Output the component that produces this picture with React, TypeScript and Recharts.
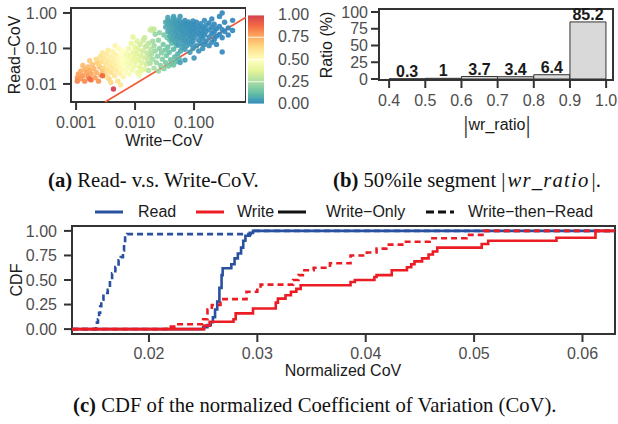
import React from 'react';
import {
  ScatterChart,
  Scatter,
  BarChart,
  Bar,
  LineChart,
  Line,
  XAxis,
  YAxis,
  ReferenceArea,
  ReferenceLine,
  LabelList,
} from 'recharts';

// ---------- (a) Read- v.s. Write-CoV : [write CoV, read CoV, colour value] ----------
const orangePoints: [number, number, number][] = [
  [0.00105, 0.015, 0.8], [0.00105, 0.012, 0.83], [0.0011, 0.019, 0.78], [0.0012, 0.023, 0.76],
  [0.0012, 0.014, 0.8], [0.0013, 0.017, 0.79], [0.0014, 0.026, 0.74], [0.0014, 0.012, 0.82],
  [0.0015, 0.021, 0.77], [0.0016, 0.03, 0.72], [0.0016, 0.016, 0.8], [0.0017, 0.024, 0.75],
  [0.0018, 0.019, 0.77], [0.0018, 0.013, 0.86], [0.0019, 0.035, 0.7], [0.002, 0.027, 0.73],
  [0.0021, 0.015, 0.78], [0.0022, 0.021, 0.74], [0.0023, 0.04, 0.68], [0.0024, 0.012, 0.8],
  [0.0025, 0.03, 0.7], [0.0026, 0.018, 0.74], [0.0013, 0.033, 0.72], [0.0017, 0.045, 0.68],
  [0.0028, 0.024, 0.71],
];

const palePoints: [number, number, number][] = [
  [0.0022, 0.05, 0.64], [0.0024, 0.036, 0.66], [0.0026, 0.06, 0.62], [0.0027, 0.043, 0.63],
  [0.0029, 0.028, 0.65], [0.003, 0.052, 0.6], [0.0031, 0.019, 0.66], [0.0032, 0.037, 0.61],
  [0.0033, 0.07, 0.58], [0.0034, 0.025, 0.63], [0.0035, 0.046, 0.59], [0.0036, 0.014, 0.66],
  [0.0037, 0.032, 0.6], [0.0038, 0.058, 0.57], [0.0039, 0.021, 0.62], [0.004, 0.04, 0.58],
  [0.0041, 0.083, 0.55], [0.0042, 0.028, 0.6], [0.0044, 0.05, 0.56], [0.0045, 0.017, 0.6],
  [0.0046, 0.035, 0.57], [0.0047, 0.065, 0.54], [0.0048, 0.024, 0.58], [0.005, 0.043, 0.54],
  [0.0051, 0.012, 0.62], [0.0052, 0.03, 0.55], [0.0054, 0.055, 0.52], [0.0055, 0.02, 0.56],
  [0.0056, 0.038, 0.52], [0.0058, 0.075, 0.5], [0.006, 0.027, 0.53], [0.0062, 0.047, 0.5],
  [0.0063, 0.016, 0.55], [0.0065, 0.034, 0.5], [0.0067, 0.06, 0.48], [0.0069, 0.022, 0.52],
  [0.0046, 0.12, 0.55], [0.0052, 0.1, 0.52], [0.0035, 0.09, 0.58], [0.0028, 0.075, 0.6],
  [0.0039, 0.011, 0.64], [0.0057, 0.0094, 0.6], [0.0044, 0.072, 0.55], [0.0061, 0.088, 0.5],
  [0.0033, 0.016, 0.63],
];

const greenPoints: [number, number, number][] = [
  [0.007, 0.04, 0.46], [0.0072, 0.072, 0.45], [0.0074, 0.028, 0.47], [0.0076, 0.053, 0.44],
  [0.0078, 0.1, 0.43], [0.008, 0.019, 0.47], [0.0082, 0.035, 0.44], [0.0084, 0.065, 0.42],
  [0.0086, 0.14, 0.4], [0.0088, 0.045, 0.42], [0.009, 0.025, 0.44], [0.0092, 0.21, 0.38],
  [0.0094, 0.08, 0.4], [0.0096, 0.055, 0.4], [0.0098, 0.032, 0.42], [0.01, 0.11, 0.38],
  [0.0103, 0.042, 0.39], [0.0106, 0.07, 0.37], [0.011, 0.021, 0.42], [0.0113, 0.095, 0.36],
  [0.0116, 0.05, 0.37], [0.012, 0.03, 0.38], [0.0123, 0.13, 0.34], [0.0126, 0.063, 0.35],
  [0.013, 0.04, 0.36], [0.0134, 0.085, 0.33], [0.0138, 0.17, 0.32], [0.0142, 0.026, 0.36],
  [0.0146, 0.055, 0.33], [0.015, 0.11, 0.31], [0.0155, 0.036, 0.33], [0.016, 0.075, 0.3],
  [0.0165, 0.045, 0.31], [0.017, 0.14, 0.29], [0.018, 0.33, 0.32], [0.019, 0.36, 0.33],
  [0.02, 0.32, 0.31], [0.021, 0.35, 0.3], [0.0175, 0.06, 0.29], [0.0185, 0.095, 0.28],
  [0.0118, 0.018, 0.42], [0.0108, 0.16, 0.36], [0.0145, 0.2, 0.32], [0.0128, 0.024, 0.39],
  [0.0158, 0.12, 0.3],
];

const tealPoints: [number, number, number][] = [
  [0.017, 0.024, 0.28], [0.018, 0.038, 0.26], [0.019, 0.07, 0.25], [0.02, 0.05, 0.24],
  [0.021, 0.028, 0.25], [0.021, 0.12, 0.23], [0.022, 0.085, 0.22], [0.023, 0.04, 0.22],
  [0.024, 0.06, 0.2], [0.025, 0.17, 0.2], [0.025, 0.023, 0.22], [0.026, 0.1, 0.19],
  [0.027, 0.033, 0.2], [0.028, 0.075, 0.18], [0.029, 0.05, 0.18], [0.03, 0.13, 0.16],
  [0.031, 0.027, 0.19], [0.032, 0.09, 0.16], [0.033, 0.04, 0.16], [0.034, 0.063, 0.15],
  [0.035, 0.2, 0.14], [0.036, 0.11, 0.13], [0.037, 0.032, 0.16], [0.038, 0.078, 0.13],
  [0.04, 0.048, 0.13], [0.042, 0.14, 0.11], [0.043, 0.036, 0.14], [0.045, 0.095, 0.11],
  [0.047, 0.058, 0.11], [0.049, 0.042, 0.12], [0.051, 0.12, 0.09], [0.053, 0.07, 0.09],
  [0.056, 0.05, 0.1], [0.059, 0.085, 0.08], [0.022, 0.25, 0.22], [0.026, 0.28, 0.2],
  [0.031, 0.24, 0.16], [0.02, 0.16, 0.24], [0.045, 0.034, 0.15], [0.039, 0.17, 0.12],
];

const bluePoints: [number, number, number][] = [
  [0.033, 0.4, 0.08], [0.033, 0.55, 0.08], [0.036, 0.3, 0.07], [0.036, 0.47, 0.07], [0.036, 0.62, 0.07],
  [0.039, 0.23, 0.07], [0.039, 0.36, 0.06], [0.039, 0.52, 0.06], [0.042, 0.18, 0.07], [0.042, 0.28, 0.06],
  [0.042, 0.42, 0.06], [0.042, 0.6, 0.05], [0.045, 0.21, 0.06], [0.045, 0.33, 0.05], [0.045, 0.48, 0.05],
  [0.045, 0.7, 0.05], [0.048, 0.15, 0.06], [0.048, 0.25, 0.05], [0.048, 0.38, 0.05], [0.048, 0.55, 0.04],
  [0.051, 0.19, 0.05], [0.051, 0.3, 0.04], [0.051, 0.44, 0.04], [0.051, 0.63, 0.04], [0.054, 0.13, 0.05],
  [0.054, 0.22, 0.04], [0.054, 0.35, 0.04], [0.054, 0.5, 0.04], [0.058, 0.17, 0.04], [0.058, 0.27, 0.04],
  [0.058, 0.4, 0.03], [0.058, 0.58, 0.03], [0.058, 0.8, 0.03], [0.062, 0.11, 0.05], [0.062, 0.2, 0.04],
  [0.062, 0.31, 0.03], [0.062, 0.46, 0.03], [0.066, 0.14, 0.04], [0.066, 0.24, 0.03], [0.066, 0.36, 0.03],
  [0.066, 0.52, 0.03], [0.07, 0.095, 0.04], [0.07, 0.17, 0.03], [0.07, 0.28, 0.03], [0.07, 0.42, 0.03],
  [0.07, 0.62, 0.02], [0.075, 0.12, 0.04], [0.075, 0.21, 0.03], [0.075, 0.33, 0.03], [0.075, 0.48, 0.02],
  [0.08, 0.15, 0.03], [0.08, 0.25, 0.03], [0.08, 0.38, 0.02], [0.08, 0.56, 0.02], [0.085, 0.078, 0.04],
  [0.085, 0.18, 0.03], [0.085, 0.3, 0.02], [0.085, 0.44, 0.02], [0.09, 0.13, 0.03], [0.09, 0.22, 0.02],
  [0.09, 0.34, 0.02], [0.09, 0.5, 0.02], [0.096, 0.1, 0.03], [0.096, 0.16, 0.02], [0.096, 0.27, 0.02],
  [0.096, 0.4, 0.02], [0.096, 0.6, 0.02], [0.1, 0.054, 0.03], [0.1, 0.2, 0.02], [0.1, 0.31, 0.02],
  [0.1, 0.47, 0.01], [0.11, 0.12, 0.02], [0.11, 0.24, 0.02], [0.11, 0.36, 0.01], [0.11, 0.55, 0.01],
  [0.12, 0.085, 0.02], [0.12, 0.17, 0.02], [0.12, 0.28, 0.01], [0.12, 0.42, 0.01], [0.13, 0.14, 0.02],
  [0.13, 0.22, 0.01], [0.13, 0.33, 0.01], [0.13, 0.5, 0.01], [0.14, 0.1, 0.02], [0.14, 0.19, 0.01],
  [0.14, 0.27, 0.01], [0.14, 0.4, 0.01], [0.15, 0.13, 0.01], [0.15, 0.24, 0.01], [0.15, 0.36, 0.01],
  [0.15, 0.62, 0.01], [0.16, 0.16, 0.01], [0.16, 0.3, 0.01], [0.16, 0.45, 0.01], [0.18, 0.12, 0.01],
  [0.18, 0.21, 0.01], [0.18, 0.34, 0.01], [0.18, 0.52, 0.0], [0.2, 0.15, 0.01], [0.2, 0.26, 0.0],
  [0.2, 0.4, 0.0], [0.2, 0.68, 0.0], [0.22, 0.18, 0.0], [0.22, 0.3, 0.0], [0.22, 0.48, 0.0],
  [0.24, 0.13, 0.0], [0.24, 0.22, 0.0], [0.24, 0.36, 0.0], [0.27, 0.25, 0.0], [0.27, 0.42, 0.0],
  [0.27, 0.8, 0.0], [0.3, 0.08, 0.0], [0.3, 0.2, 0.0], [0.3, 0.34, 0.0], [0.3, 1.0, 0.0],
  [0.33, 0.3, 0.0], [0.33, 0.55, 0.0], [0.38, 0.24, 0.0], [0.38, 0.38, 0.0], [0.45, 0.32, 0.0],
  [0.45, 0.62, 0.0], [0.07, 0.047, 0.04], [0.058, 0.04, 0.05], [0.045, 0.8, 0.05], [0.036, 0.75, 0.06],
];

const redOutliers: [number, number, number][] = [
  [0.0043, 0.0072, 1.0], [0.0028, 0.017, 0.9], [0.0017, 0.0138, 0.88],
];

const covTicksX = [0.001, 0.01, 0.1];
const covTicksY = [0.01, 0.1, 1];
const colorbarTicks = [1, 0.75, 0.5, 0.25, 0];
const identityEnds = [0.0031, 0.76];

// ---------- (b) 50%ile segment |wr_ratio| ----------
const binMids = [0.45, 0.55, 0.65, 0.75, 0.85, 0.95];
const binRatios = [0.3, 1, 3.7, 3.4, 6.4, 85.2];
const binEdges = [0.4, 0.5, 0.6, 0.7, 0.8, 0.9, 1.0];
const ratioTicks = [0, 25, 50, 75, 100];

// ---------- (c) CDF of normalized CoV ----------
const readOnlyCov = [0.0129, 0.025, 0.0254, 0.0257, 0.0259, 0.0261, 0.0263, 0.0265, 0.0267, 0.0268, 0.0276, 0.0279, 0.0282, 0.0285, 0.0287, 0.0289, 0.0293, 0.0296, 0.063];
const readOnlyCdf = [0, 0.02, 0.04, 0.07, 0.12, 0.2, 0.28, 0.42, 0.55, 0.62, 0.66, 0.72, 0.77, 0.83, 0.9, 0.95, 0.98, 1, 1];

const readThenCov = [0.0129, 0.0151, 0.0152, 0.0153, 0.0154, 0.0155, 0.0156, 0.0158, 0.0162, 0.0164, 0.0166, 0.0169, 0.0172, 0.0174, 0.0176, 0.0177, 0.0178, 0.018, 0.0294, 0.063];
const readThenCdf = [0, 0.033, 0.067, 0.1, 0.167, 0.233, 0.3, 0.367, 0.4, 0.5, 0.567, 0.633, 0.7, 0.733, 0.8, 0.867, 0.933, 0.967, 1, 1];

const writeOnlyCov = [0.0129, 0.0251, 0.0256, 0.0278, 0.028, 0.0296, 0.0317, 0.0319, 0.0326, 0.0331, 0.0336, 0.034, 0.0386, 0.039, 0.0408, 0.041, 0.0424, 0.0438, 0.0442, 0.0445, 0.0452, 0.0458, 0.0462, 0.0466, 0.0507, 0.0513, 0.0576, 0.0612, 0.063];
const writeOnlyCdf = [0, 0.035, 0.075, 0.1, 0.16, 0.21, 0.27, 0.31, 0.345, 0.38, 0.41, 0.446, 0.48, 0.5, 0.53, 0.55, 0.6, 0.63, 0.66, 0.69, 0.72, 0.76, 0.79, 0.83, 0.866, 0.9, 0.93, 1, 1];

const writeThenCov = [0.0129, 0.0216, 0.0225, 0.025, 0.0254, 0.0258, 0.0266, 0.029, 0.03, 0.0303, 0.0333, 0.0338, 0.0342, 0.0352, 0.0367, 0.0386, 0.0401, 0.041, 0.0419, 0.0435, 0.0459, 0.0493, 0.0509, 0.063];
const writeThenCdf = [0, 0.025, 0.05, 0.1, 0.2, 0.245, 0.305, 0.38, 0.42, 0.453, 0.5, 0.55, 0.6, 0.625, 0.67, 0.75, 0.78, 0.82, 0.86, 0.89, 0.926, 0.96, 1, 1];

const cdfTicksX = [0.02, 0.03, 0.04, 0.05, 0.06];
const cdfTicksY = [0, 0.25, 0.5, 0.75, 1];

// ---------- styling ----------
const SANS = '"Liberation Sans", Arial, Helvetica, sans-serif';
const SERIF = '"Liberation Serif", "Times New Roman", serif';
const INK = '#1a1a1a';
const TICK_INK = '#4d4d4d';
const FRAME = '#333333';
const BLUE = '#2a50a0';
const RED = '#ec1c24';
const CAPTION_SIZE = 20.7;

const tickText = { fill: TICK_INK, fontSize: 16, fontFamily: SANS };
const tickMark = { stroke: FRAME, strokeWidth: 2 };

const spectralStops: [number, string][] = [
  [0, '#3288bd'], [0.125, '#66c2a5'], [0.25, '#abdda4'], [0.375, '#e6f598'],
  [0.5, '#ffffbf'], [0.625, '#fee08b'], [0.75, '#fdae61'], [0.875, '#f46d43'], [1, '#d53e4f'],
];

const hex = (s: string) => [1, 3, 5].map((i) => parseInt(s.slice(i, i + 2), 16));

const spectral = (t: number) => {
  const v = Math.max(0, Math.min(1, t));
  for (let i = 1; i < spectralStops.length; i++) {
    const [p1, c1] = spectralStops[i];
    if (v <= p1) {
      const [p0, c0] = spectralStops[i - 1];
      const f = (v - p0) / (p1 - p0);
      const a = hex(c0);
      const b = hex(c1);
      const m = a.map((x, k) => Math.round(x + (b[k] - x) * f));
      return `rgb(${m[0]},${m[1]},${m[2]})`;
    }
  }
  return spectralStops[spectralStops.length - 1][1];
};

const scatterRows = [...orangePoints, ...palePoints, ...greenPoints, ...tealPoints, ...bluePoints, ...redOutliers].map(
  ([w, r, c]) => ({ w, r, c })
);
const barRows = binMids.map((mid, i) => ({ mid, ratio: binRatios[i] }));
const toRows = (xs: number[], ys: number[]) => xs.map((x, i) => ({ x, y: ys[i] }));

const Dot = (props: any) => (
  <circle cx={props.cx} cy={props.cy} r={2.7} fill={spectral(props.payload.c)} fillOpacity={0.92} />
);

const abs = (left: number, top: number): React.CSSProperties => ({ position: 'absolute', left, top });

const Rotated = ({ x, y, children }: { x: number; y: number; children: React.ReactNode }) => (
  <div
    style={{
      position: 'absolute', left: x, top: y, transform: 'translate(-50%, -50%) rotate(-90deg)',
      whiteSpace: 'nowrap', fontFamily: SANS, fontSize: 16, color: INK, lineHeight: '14px',
    }}
  >
    {children}
  </div>
);

const Centered = ({ x, y, children, style }: { x: number; y: number; children: React.ReactNode; style?: React.CSSProperties }) => (
  <div
    style={{
      position: 'absolute', left: x, top: y, transform: 'translate(-50%, -50%)',
      whiteSpace: 'nowrap', fontFamily: SANS, fontSize: 16, color: INK, lineHeight: '14px', ...style,
    }}
  >
    {children}
  </div>
);

const Swatch = ({ x, color, dashed }: { x: number; color: string; dashed?: boolean }) => (
  <svg style={abs(x, 209)} width={28} height={6}>
    <line x1={0} x2={28} y1={3} y2={3} stroke={color} strokeWidth={3} strokeDasharray={dashed ? '8 4' : undefined} />
  </svg>
);

const captionStyle = (left: number, top: number): React.CSSProperties => ({
  ...abs(left, top), fontFamily: SERIF, fontSize: CAPTION_SIZE, color: '#111', lineHeight: '22px', whiteSpace: 'nowrap',
});

const legendText = (left: number): React.CSSProperties => ({
  ...abs(left, 203), fontFamily: SANS, fontSize: 16, color: INK, lineHeight: '18px', whiteSpace: 'nowrap',
});

const App = () => {
  return (
    <div style={{ position: 'absolute', left: 0, top: 0, width: 618, height: 424, background: '#fff', overflow: 'hidden' }}>
      {/* (a) scatter */}
      <div style={abs(0, 0)}>
        <ScatterChart width={246} height={150} margin={{ top: 8, right: 0, bottom: 0, left: 0 }}>
          <XAxis
            type="number" dataKey="w" scale="log" domain={[0.00082, 0.76]} allowDataOverflow
            ticks={covTicksX} interval={0} tickFormatter={(v: number) => v.toFixed(3)}
            axisLine={false} tickLine={tickMark} tickSize={8} tickMargin={7} tick={tickText} height={48}
          />
          <YAxis
            type="number" dataKey="r" scale="log" domain={[0.0031, 1.38]} allowDataOverflow
            ticks={covTicksY} interval={0} tickFormatter={(v: number) => v.toFixed(2)}
            axisLine={false} tickLine={tickMark} tickSize={8} tickMargin={6} tick={tickText} width={71}
          />
          <Scatter data={scatterRows} shape={Dot} isAnimationActive={false} />
          <ReferenceLine
            segment={[{ x: identityEnds[0], y: identityEnds[0] }, { x: identityEnds[1], y: identityEnds[1] }]}
            stroke="#f05a38" strokeWidth={1.6}
          />
          <ReferenceArea x1={0.00082} x2={0.76} y1={0.0031} y2={1.38} fill="none" stroke={FRAME} strokeWidth={2} />
        </ScatterChart>
      </div>
      <Rotated x={15} y={55}>Read−CoV</Rotated>
      <Centered x={164} y={141}>Write−CoV</Centered>
      <svg style={abs(248, 15)} width={16} height={89}>
        <defs>
          <linearGradient id="spectralBar" x1="0" y1="1" x2="0" y2="0">
            {spectralStops.map(([p, c]) => (
              <stop key={p} offset={p} stopColor={c} />
            ))}
          </linearGradient>
        </defs>
        <rect x={0} y={0} width={16} height={89} fill="url(#spectralBar)" />
        {colorbarTicks.map((t) => (
          <line key={t} x1={0} x2={16} y1={(1 - t) * 89} y2={(1 - t) * 89} stroke="#fff" strokeOpacity={0.85} strokeWidth={1} />
        ))}
      </svg>
      {colorbarTicks.map((t) => (
        <div key={t} style={{ ...abs(278, 15 + (1 - t) * 89 - 9), fontFamily: SANS, fontSize: 16, color: TICK_INK, lineHeight: '18px' }}>
          {t.toFixed(2)}
        </div>
      ))}

      {/* (b) bar */}
      <div style={abs(300, 0)}>
        <BarChart width={318} height={140} data={barRows} margin={{ top: 9, right: 5, bottom: 0, left: 0 }} barCategoryGap={0} barGap={0}>
          <XAxis
            type="number" dataKey="mid" domain={[0.372, 1.019]} allowDataOverflow ticks={binEdges} interval={0}
            tickFormatter={(v: number) => v.toFixed(1)} axisLine={false} tickLine={tickMark} tickSize={8}
            tickMargin={7} tick={tickText} height={60}
          />
          <YAxis
            type="number" domain={[-1.5, 104.5]} allowDataOverflow ticks={ratioTicks} interval={0}
            axisLine={false} tickLine={tickMark} tickSize={8} tickMargin={3} tick={tickText} width={79}
          />
          <Bar dataKey="ratio" fill="#d9d9d9" stroke={FRAME} strokeWidth={1} isAnimationActive={false}>
            <LabelList dataKey="ratio" position="top" offset={2} fill={INK} fontSize={16} fontWeight={700} fontFamily={SANS} />
          </Bar>
          <ReferenceArea x1={0.372} x2={1.019} y1={-1.5} y2={104.5} fill="none" stroke={FRAME} strokeWidth={2} />
        </BarChart>
      </div>
      <Rotated x={327} y={45}>Ratio (%)</Rotated>
      <Centered x={497} y={125}>
        <span style={{ fontFamily: SERIF, fontSize: 26, verticalAlign: 'middle', color: '#333' }}>|</span>
        <span style={{ verticalAlign: 'middle' }}>wr_ratio</span>
        <span style={{ fontFamily: SERIF, fontSize: 26, verticalAlign: 'middle', color: '#333' }}>|</span>
      </Centered>

      {/* captions a / b */}
      <div style={captionStyle(48, 169)}>
        <b>(a)</b> Read- v.s. Write-CoV.
      </div>
      <div style={captionStyle(333, 169)}>
        <b>(b)</b> 50%ile segment |<i style={{ letterSpacing: 1.2, padding: '0 2px' }}>wr_ratio</i>|.
      </div>

      {/* (c) CDF */}
      <div style={abs(0, 200)}>
        <LineChart width={618} height={175} margin={{ top: 26, right: 3, bottom: 0, left: 0 }}>
          <XAxis
            type="number" dataKey="x" domain={[0.0129, 0.063]} allowDataOverflow ticks={cdfTicksX} interval={0}
            tickFormatter={(v: number) => v.toFixed(2)} axisLine={false} tickLine={tickMark} tickSize={8}
            tickMargin={6} tick={tickText} height={41}
          />
          <YAxis
            type="number" domain={[-0.05, 1.05]} allowDataOverflow ticks={cdfTicksY} interval={0}
            tickFormatter={(v: number) => v.toFixed(2)} axisLine={false} tickLine={tickMark} tickSize={8}
            tickMargin={7} tick={tickText} width={72}
          />
          <Line data={toRows(readOnlyCov, readOnlyCdf)} dataKey="y" type="stepAfter" stroke={BLUE} strokeWidth={2.6} dot={false} isAnimationActive={false} />
          <Line data={toRows(readThenCov, readThenCdf)} dataKey="y" type="stepAfter" stroke={BLUE} strokeWidth={2.6} strokeDasharray="6 4" dot={false} isAnimationActive={false} />
          <Line data={toRows(writeThenCov, writeThenCdf)} dataKey="y" type="stepAfter" stroke={RED} strokeWidth={2.6} strokeDasharray="6 4" dot={false} isAnimationActive={false} />
          <Line data={toRows(writeOnlyCov, writeOnlyCdf)} dataKey="y" type="stepAfter" stroke={RED} strokeWidth={2.6} dot={false} isAnimationActive={false} />
          <ReferenceArea x1={0.0129} x2={0.063} y1={-0.05} y2={1.05} fill="none" stroke={FRAME} strokeWidth={2} />
        </LineChart>
      </div>
      <Rotated x={17} y={280}>CDF</Rotated>
      <Centered x={343} y={371}>Normalized CoV</Centered>

      {/* legend */}
      <Swatch x={95} color={BLUE} />
      <div style={legendText(138)}>Read</div>
      <Swatch x={196} color={RED} />
      <div style={legendText(237)}>Write</div>
      <Swatch x={278} color="#111" />
      <div style={legendText(326)}>Write−Only</div>
      <Swatch x={426} color="#111" dashed />
      <div style={legendText(468)}>Write−then−Read</div>

      {/* caption c */}
      <div style={captionStyle(73, 394)}>
        <b>(c)</b> CDF of the normalized Coefficient of Variation (CoV).
      </div>
    </div>
  );
};

export default App;
